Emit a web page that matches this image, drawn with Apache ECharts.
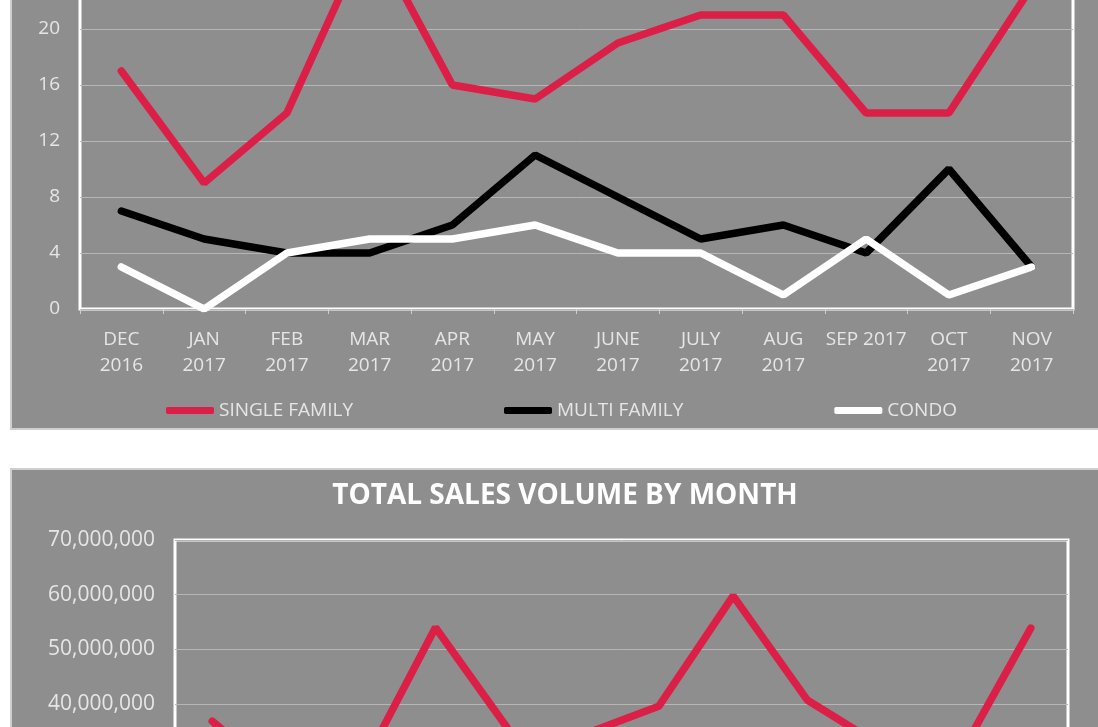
<!DOCTYPE html>
<html>
<head>
<meta charset="utf-8">
<script src="https://cdn.jsdelivr.net/npm/echarts@6/dist/echarts.min.js"></script>
<style>
    html, body { margin: 0; padding: 0; background: #fff; overflow: hidden; width: 1098px; height: 727px; }
    .frame { position: absolute; box-sizing: border-box; border: 2px solid #cfcfcf; background: #8e8e8e; }
    #typeChart { left: 10px; top: -130px; width: 1110px; height: 560px; }
    #volumeChart { left: 10px; top: 468px; width: 1110px; height: 500px; }
</style>
</head>
<body>
<div id="typeChart" class="frame"></div>
<div id="volumeChart" class="frame"></div>
<script>
    // months shown on both charts
    const months = ['DEC\n2016', 'JAN\n2017', 'FEB\n2017', 'MAR\n2017', 'APR\n2017', 'MAY\n2017',
        'JUNE\n2017', 'JULY\n2017', 'AUG\n2017', 'SEP 2017', 'OCT\n2017', 'NOV\n2017'];

    // sales count by property type
    const singleFamily = [17, 9, 14, 27, 16, 15, 19, 21, 21, 14, 14, 23];
    const multiFamily = [7, 5, 4, 4, 6, 11, 8, 5, 6, 4, 10, 3];
    const condo = [3, 0, 4, 5, 5, 6, 4, 4, 1, 5, 1, 3];

    // total sales volume ($)
    const salesVolume = [36900000, 25500000, 28000000, 54000000, 35000000, 34500000,
        39600000, 59800000, 40700000, 32300000, 29500000, 53900000];

    const font = 'Open Sans';
    const labelColor = '#e6e6e6';
    const gridColor = '#b6b6b6';
    const red = '#dc1f46';

    let typeChart = echarts.init(document.getElementById('typeChart'));
    let lineSeries = (name, data, color) => ({
        name: name,
        type: 'line',
        data: data,
        symbol: 'none',
        lineStyle: { color: color, width: 7.5, cap: 'round' },
        itemStyle: { color: color }
    });
    typeChart.setOption({
        animation: false,
        grid: {
            left: 68,
            right: 45,
            top: 45,
            bottom: 119,
            show: true,
            borderColor: '#ffffff',
            borderWidth: 3
        },
        legend: {
            left: 149,
            top: 524,
            icon: 'roundRect',
            itemWidth: 48,
            itemHeight: 7,
            itemGap: 151,
            textStyle: { color: labelColor, fontFamily: font, fontSize: 19 },
            data: ['SINGLE FAMILY', 'MULTI FAMILY', 'CONDO']
        },
        xAxis: {
            type: 'category',
            data: months,
            boundaryGap: true,
            axisLine: { show: false },
            axisTick: { show: true, length: 5, lineStyle: { color: '#cfcfcf' } },
            axisLabel: {
                color: labelColor,
                fontFamily: font,
                fontSize: 19,
                lineHeight: 26,
                margin: 18,
                interval: 0
            }
        },
        yAxis: {
            type: 'value',
            min: 0,
            max: 28,
            interval: 4,
            axisLine: { show: false },
            axisTick: { show: false },
            axisLabel: { color: labelColor, fontFamily: font, fontSize: 19, margin: 20 },
            splitLine: { lineStyle: { color: gridColor, width: 1 } }
        },
        series: [
            lineSeries('SINGLE FAMILY', singleFamily, red),
            lineSeries('MULTI FAMILY', multiFamily, '#000000'),
            lineSeries('CONDO', condo, '#ffffff')
        ]
    });

    let volumeChart = echarts.init(document.getElementById('volumeChart'));
    volumeChart.setOption({
        animation: false,
        title: {
            text: 'TOTAL SALES VOLUME BY MONTH',
            left: 'center',
            top: 12,
            padding: 0,
            textStyle: { color: '#ffffff', fontFamily: font, fontSize: 28, fontWeight: 'bold' }
        },
        grid: {
            left: 163,
            right: 50,
            top: 70,
            bottom: 43,
            show: true,
            borderColor: '#ffffff',
            borderWidth: 3
        },
        xAxis: {
            type: 'category',
            data: months,
            boundaryGap: true,
            axisLine: { show: false },
            axisTick: { show: false },
            axisLabel: { show: false }
        },
        yAxis: {
            type: 'value',
            min: 0,
            max: 70000000,
            interval: 10000000,
            axisLine: { show: false },
            axisTick: { show: false },
            axisLabel: {
                color: labelColor,
                fontFamily: font,
                fontSize: 21,
                margin: 20,
                formatter: v => v.toLocaleString('en-US')
            },
            splitLine: { lineStyle: { color: gridColor, width: 1 } }
        },
        series: [{
            name: 'TOTAL SALES VOLUME',
            type: 'line',
            data: salesVolume,
            symbol: 'none',
            lineStyle: { color: red, width: 7.5, cap: 'round' }
        }]
    });
</script>
</body>
</html>
